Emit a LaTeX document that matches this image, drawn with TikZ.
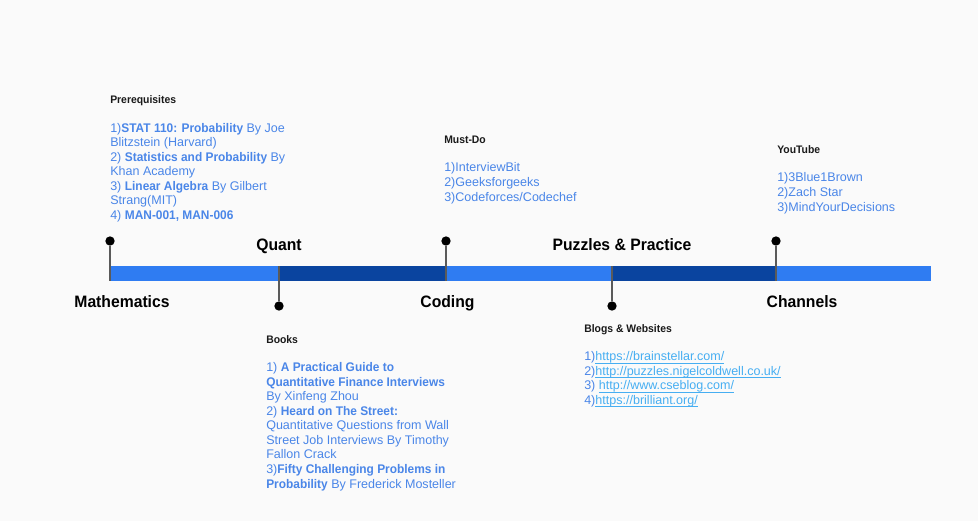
\documentclass[tikz,border=0pt]{standalone}
\usepackage{fontspec}
\setmainfont{Liberation Sans}[BoldFeatures={FakeStretch=0.95}]
\definecolor{bgcol}{HTML}{FAFAFA}
\definecolor{barlight}{HTML}{2F7CF2}
\definecolor{bardark}{HTML}{0A449F}
\definecolor{stemgray}{HTML}{5A5A5A}
\definecolor{textblue}{HTML}{4A86E8}
\definecolor{linkblue}{HTML}{46AEF2}
\definecolor{titlecol}{HTML}{1A1A1A}
\newcommand{\blocktitle}[1]{{\fontsize{8.2}{9.6}\selectfont\bfseries\color{titlecol}#1}}
\newcommand{\weblink}[1]{{\color{linkblue}\underline{\smash{#1}}}}

\begin{document}
\begin{tikzpicture}[x=0.75pt,y=-0.75pt,
    dot/.style={circle,fill=black,inner sep=0pt,minimum size=7pt},
    stem/.style={draw=stemgray,line width=1.1pt},
    milestone/.style={font=\fontsize{12.4}{14}\selectfont\bfseries,text=black,inner sep=0pt,anchor=base},
    block/.style={align=left,anchor=base west,inner sep=0pt,text=textblue,font=\fontsize{9.4}{10.9}\selectfont}]

  \useasboundingbox[fill=bgcol] (0,0) rectangle (978,521);

  % timeline bar
  \fill[barlight] (110,266) rectangle (931,281);
  \fill[bardark] (279,266) rectangle (446,281);
  \fill[bardark] (612,266) rectangle (776,281);

  \coordinate (mathbar) at (110,281);
  \coordinate (quantbar) at (279,266);
  \coordinate (codebar) at (446,281);
  \coordinate (puzzbar) at (612,266);
  \coordinate (chanbar) at (776,281);

  \node[dot] (mathdot) at (110,241) {};
  \node[dot] (quantdot) at (279,306) {};
  \node[dot] (codedot) at (446,241) {};
  \node[dot] (puzzdot) at (612,306) {};
  \node[dot] (chandot) at (776,241) {};

  \draw[stem] (mathdot) -- (mathbar);
  \draw[stem] (quantbar) -- (quantdot);
  \draw[stem] (codedot) -- (codebar);
  \draw[stem] (puzzbar) -- (puzzdot);
  \draw[stem] (chandot) -- (chanbar);

  \node[milestone] (math) at (122,307) {Mathematics};
  \node[milestone] (quant) at (279,250.5) {Quant};
  \node[milestone] (code) at (447.5,307) {Coding};
  \node[milestone] (puzz) at (622,250.5) {Puzzles \& Practice};
  \node[milestone] (chan) at (802,307) {Channels};

  % resource lists (placed by the baseline of their last line)
  \node[block] (prereq) at (110,219.5) {\blocktitle{Prerequisites}\\[10.5pt]
    1)\textbf{STAT 110: Probability} By Joe\\
    Blitzstein (Harvard)\\
    2) \textbf{Statistics and Probability} By\\
    Khan Academy\\
    3) \textbf{Linear Algebra} By Gilbert\\
    Strang(MIT)\\
    4) \textbf{MAN-001, MAN-006}};

  \node[block] (mustdo) at (444,201) {\blocktitle{Must-Do}\\[10.5pt]
    1)InterviewBit\\
    2)Geeksforgeeks\\
    3)Codeforces/Codechef};

  \node[block] (youtube) at (777,211) {\blocktitle{YouTube}\\[10.5pt]
    1)3Blue1Brown\\
    2)Zach Star\\
    3)MindYourDecisions};

  \node[block] (books) at (266,488) {\blocktitle{Books}\\[10.5pt]
    1) \textbf{A Practical Guide to}\\
    \textbf{Quantitative Finance Interviews}\\
    By Xinfeng Zhou\\
    2) \textbf{Heard on The Street:}\\
    Quantitative Questions from Wall\\
    Street Job Interviews By Timothy\\
    Fallon Crack\\
    3)\textbf{Fifty Challenging Problems in}\\
    \textbf{Probability} By Frederick Mosteller};

  \node[block] (blogs) at (584,404.5) {\blocktitle{Blogs \& Websites}\\[10.5pt]
    1)\weblink{https://brainstellar.com/}\\
    2)\weblink{http://puzzles.nigelcoldwell.co.uk/}\\
    3) \weblink{http://www.cseblog.com/}\\
    4)\weblink{https://brilliant.org/}};

\end{tikzpicture}
\end{document}
